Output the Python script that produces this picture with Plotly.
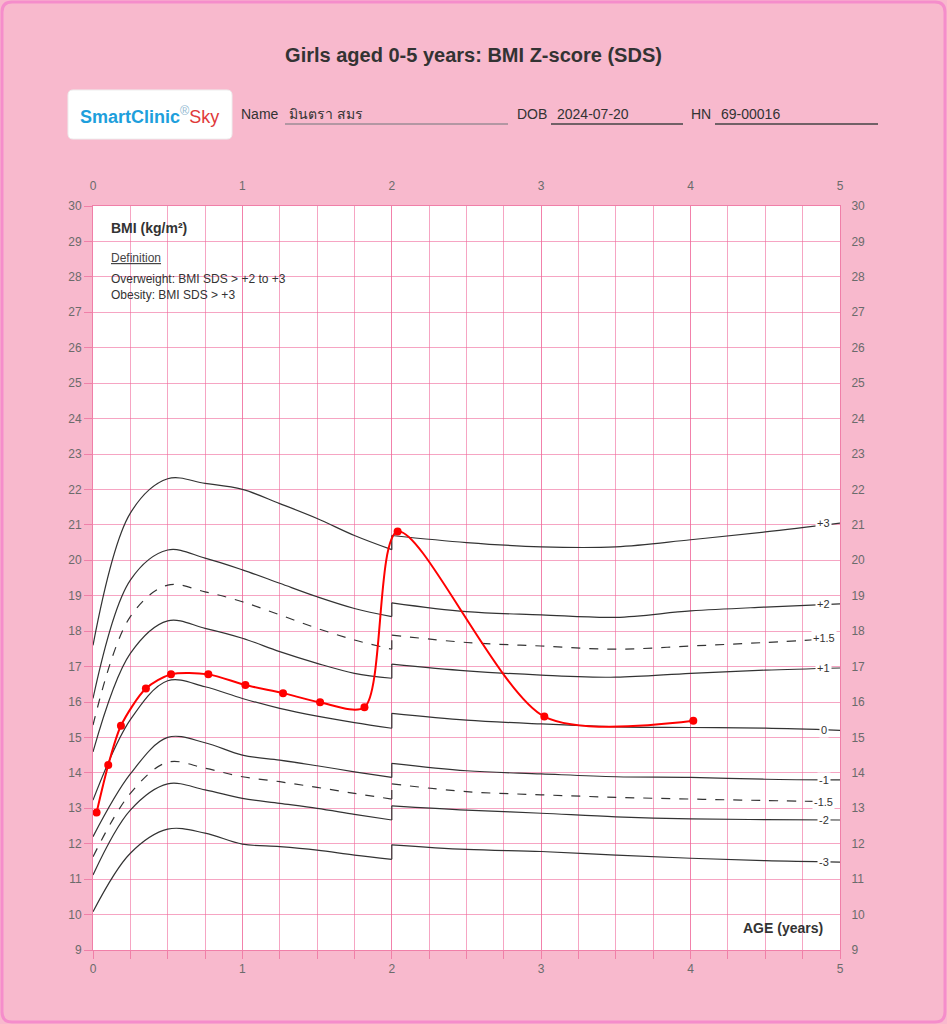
import plotly.graph_objects as go

# ---- data ----
# WHO reference values; age 2 appears twice (length -> height switch)
AGES = [0, 0.25, 0.5, 0.75, 1, 1.25, 1.5, 1.75, 2, 2, 2.5, 3, 3.5, 4, 4.5, 5]
STEP = 9  # index of the first point after the switch at age 2

Z_LABELS = ["+3", "+2", "+1.5", "+1", "0", "-1", "-1.5", "-2", "-3"]
Z_P3 = [17.6, 21.33, 22.3, 22.17, 22.0, 21.6, 21.18, 20.7, 20.3, 20.7, 20.5, 20.38, 20.38, 20.58, 20.8, 21.05]
Z_P2 = [16.1, 19.44, 20.29, 20.06, 19.73, 19.35, 18.97, 18.64, 18.41, 18.8, 18.55, 18.46, 18.39, 18.57, 18.68, 18.77]
Z_P15 = [15.35, 18.41, 19.3, 19.11, 18.83, 18.46, 18.08, 17.75, 17.49, 17.89, 17.68, 17.58, 17.49, 17.58, 17.68, 17.8]
Z_P1 = [14.59, 17.37, 18.29, 18.08, 17.8, 17.42, 17.09, 16.81, 16.67, 17.07, 16.88, 16.76, 16.7, 16.81, 16.9, 16.96]
Z_0 = [13.23, 15.5, 16.6, 16.43, 16.1, 15.82, 15.6, 15.42, 15.26, 15.68, 15.49, 15.38, 15.3, 15.28, 15.26, 15.2]
Z_M1 = [12.2, 13.97, 15.0, 14.85, 14.5, 14.36, 14.2, 14.03, 13.87, 14.27, 14.06, 13.97, 13.89, 13.87, 13.82, 13.8]
Z_M15 = [11.63, 13.42, 14.3, 14.13, 13.89, 13.75, 13.59, 13.42, 13.26, 13.69, 13.47, 13.38, 13.31, 13.26, 13.22, 13.18]
Z_M2 = [11.12, 12.95, 13.69, 13.52, 13.28, 13.14, 13.0, 12.83, 12.67, 13.07, 12.95, 12.86, 12.76, 12.7, 12.68, 12.67]
Z_M3 = [10.08, 11.73, 12.41, 12.3, 11.99, 11.92, 11.82, 11.68, 11.56, 11.97, 11.84, 11.78, 11.68, 11.59, 11.52, 11.48]
Z_CURVES = [Z_P3, Z_P2, Z_P15, Z_P1, Z_0, Z_M1, Z_M15, Z_M2, Z_M3]

PATIENT_AGE = [0.024, 0.102, 0.187, 0.354, 0.522, 0.772, 1.02, 1.272, 1.52, 1.817, 2.039, 3.021, 4.018]
PATIENT_BMI = [12.88, 14.22, 15.33, 16.38, 16.78, 16.78, 16.48, 16.25, 15.99, 15.85, 20.81, 15.59, 15.47]

X_TICKS = [0, 1, 2, 3, 4, 5]
Y_MIN, Y_MAX = 9, 30

PATIENT_NAME = "มินตรา สมร"
DOB = "2024-07-20"
HN = "69-00016"

# ---- style ----
W, H = 947, 1024
L, R, T, B = 93, 107, 206, 74
PAPER_BG = "#f8b9cd"
BORDER = "#f58dcb"
GRID = "rgba(240, 105, 155, 0.6)"
PINK_LINE = "#f07fa8"
FONT = "Liberation Sans, Arial, sans-serif"
TICK_FONT = dict(family=FONT, size=12, color="#6b6b6b")
TXT = "#333333"


def px(x):
    return (x - L) / (W - L - R)


def py(y):
    return (H - B - y) / (H - T - B)


def rounded_rect(x0, y0, x1, y1, r):
    # pixel coords -> paper path with rounded corners
    pts = [
        f"M {px(x0 + r)},{py(y0)}",
        f"L {px(x1 - r)},{py(y0)}",
        f"Q {px(x1)},{py(y0)} {px(x1)},{py(y0 + r)}",
        f"L {px(x1)},{py(y1 - r)}",
        f"Q {px(x1)},{py(y1)} {px(x1 - r)},{py(y1)}",
        f"L {px(x0 + r)},{py(y1)}",
        f"Q {px(x0)},{py(y1)} {px(x0)},{py(y1 - r)}",
        f"L {px(x0)},{py(y0 + r)}",
        f"Q {px(x0)},{py(y0)} {px(x0 + r)},{py(y0)}",
        "Z",
    ]
    return " ".join(pts)


def label(x, y, text, size, color=TXT, xanchor="left", family=FONT):
    fig.add_annotation(x=px(x), y=py(y), xref="paper", yref="paper",
                       text=text, showarrow=False, xanchor=xanchor,
                       yanchor="middle",
                       font=dict(family=family, size=size, color=color))


fig = go.Figure()

for name, values in zip(Z_LABELS, Z_CURVES):
    dash = "dash" if "1.5" in name else "solid"
    # smooth piece before age 2, the jump, and the smooth piece after
    pieces = [
        (AGES[:STEP], values[:STEP], "spline"),
        (AGES[STEP - 1:STEP + 1], values[STEP - 1:STEP + 1], "linear"),
        (AGES[STEP:], values[STEP:], "spline"),
    ]
    for xs, ys, shape in pieces:
        fig.add_trace(
            go.Scatter(
                x=xs, y=ys, mode="lines",
                line=dict(color="#333333", width=1.2, shape=shape, dash=dash),
                hoverinfo="skip",
            )
        )
    fig.add_annotation(
        x=4.89, y=values[-1], text=name, showarrow=False,
        font=dict(family=FONT, size=11, color=TXT),
        bgcolor="white", borderpad=1,
    )

fig.add_trace(
    go.Scatter(
        x=PATIENT_AGE,
        y=PATIENT_BMI,
        mode="lines+markers",
        line=dict(color="#ff0000", width=2, shape="spline", smoothing=0.8),
        marker=dict(color="#ff0000", size=8),
    )
)

# invisible copy so the top and right axes get drawn
fig.add_trace(
    go.Scatter(
        x=PATIENT_AGE, y=PATIENT_BMI, xaxis="x2", yaxis="y2",
        mode="markers", marker=dict(opacity=0), hoverinfo="skip",
    )
)

axis_common = dict(
    showline=True, linecolor=PINK_LINE, linewidth=1, mirror=True,
    gridcolor=GRID, gridwidth=1, zeroline=False, tickfont=TICK_FONT,
)
fig.update_layout(
    xaxis=dict(
        range=[0, 5], tickvals=X_TICKS, ticks="outside", ticklen=8,
        tickcolor=PINK_LINE,
        minor=dict(dtick=0.25, showgrid=True, gridcolor=GRID, ticks="outside",
                   ticklen=8, tickcolor=PINK_LINE),
        **axis_common,
    ),
    yaxis=dict(
        range=[Y_MIN, Y_MAX], dtick=1, ticks="outside", ticklen=8,
        tickcolor=PINK_LINE, **axis_common,
    ),
    xaxis2=dict(overlaying="x", anchor="y2", side="top", range=[0, 5],
                tickvals=X_TICKS, showgrid=False, zeroline=False,
                ticks="outside", ticklen=10, tickcolor="rgba(0,0,0,0)",
                tickfont=TICK_FONT),
    yaxis2=dict(overlaying="y", anchor="x2", side="right",
                range=[Y_MIN, Y_MAX], dtick=1, showgrid=False, zeroline=False,
                ticks="outside", ticklen=8, tickcolor="rgba(0,0,0,0)",
                tickfont=TICK_FONT),
)

# frame and logo box
fig.add_shape(type="path", xref="paper", yref="paper",
              path=rounded_rect(2, 2, 945, 1022, 10),
              line=dict(color=BORDER, width=3), layer="below")
fig.add_shape(type="path", xref="paper", yref="paper",
              path=rounded_rect(68, 90, 232, 139, 5),
              fillcolor="white", line=dict(color="#eeeeee", width=1))

# header fields
for x, text in [(239, "Name"), (287, PATIENT_NAME), (515, "DOB"),
                (555, DOB), (689, "HN"), (719, HN)]:
    label(x, 114, text, 14)
for x0, x1, color in [(285, 508, "#9d8d95"), (551, 683, "#444444"), (715, 878, "#444444")]:
    fig.add_shape(type="line", xref="paper", yref="paper",
                  x0=px(x0), x1=px(x1), y0=py(124), y1=py(124),
                  line=dict(color=color, width=1.3))

label(149, 115,
      "<span style='color:#1e9fdc'><b>SmartClinic</b></span>"
      "<span style='color:#8fb8d0'><sup>®</sup></span>"
      "<span style='color:#e03a3a'>Sky</span>",
      18, xanchor="center")

# texts inside plot
label(109, 228, "<b>BMI (kg/m²)</b>", 14)
label(109, 258, "<u>Definition</u>", 12, color="#444444")
label(109, 279, "Overweight: BMI SDS &gt; +2 to +3", 12)
label(109, 295, "Obesity: BMI SDS &gt; +3", 12)
label(825, 928, "<b>AGE (years)</b>", 14, xanchor="right")

fig.update_layout(
    width=W, height=H,
    margin=dict(l=L, r=R, t=T, b=B),
    paper_bgcolor=PAPER_BG,
    plot_bgcolor="white",
    showlegend=False,
    title=dict(text="<b>Girls aged 0-5 years: BMI Z-score (SDS)</b>",
               x=0.5, xref="container", y=1 - 55 / H, yref="container",
               xanchor="center", yanchor="middle",
               font=dict(family=FONT, size=20, color=TXT)),
)

fig.write_html(
    "out.html",
    config={"displayModeBar": False},
    post_script="document.body.style.margin='0';document.body.style.overflow='hidden';",
)
